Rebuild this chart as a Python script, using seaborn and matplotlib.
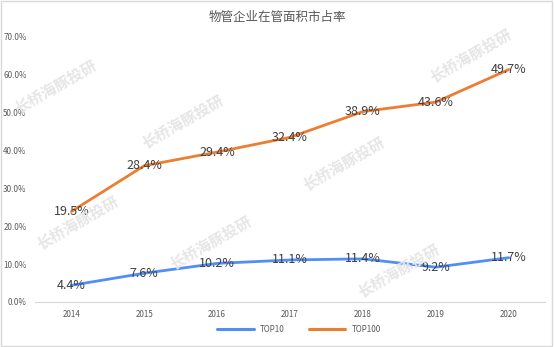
import matplotlib
matplotlib.use("Agg")
import matplotlib.pyplot as plt
import seaborn as sns
import pandas as pd
import numpy as np
from matplotlib.lines import Line2D

years = ["2014", "2015", "2016", "2017", "2018", "2019", "2020"]
top10 = [4.4, 7.6, 10.2, 11.1, 11.4, 9.2, 11.7]
top100 = [19.5, 28.4, 29.4, 32.4, 38.9, 43.6, 49.7]
series_names = ["TOP10", "TOP100"]
title = "物管企业在管面积市占率"
yticks = [0, 10, 20, 30, 40, 50, 60, 70]

sns.set_theme(style="white")
plt.rcParams["font.family"] = ["Noto Sans CJK SC", "DejaVu Sans"]

# stacked line chart: second series drawn on top of the first
stack10 = np.array(top10)
stack100 = stack10 + np.array(top100)
df = pd.DataFrame({
    "year": years * 2,
    "value": list(stack10) + list(stack100),
    "label": top10 + top100,
    "series": [series_names[0]] * 7 + [series_names[1]] * 7,
})

colors = {"TOP10": "#4F8FF7", "TOP100": "#ED7D31"}

fig = plt.figure(figsize=(5.54, 3.47), dpi=100)
ax = fig.add_axes([0.063, 0.1297, 0.921, 0.7637])

# faint watermarks
wm_pos = [(0.10, 0.75), (0.33, 0.65), (0.62, 0.53), (0.85, 0.84),
          (0.14, 0.36), (0.38, 0.30), (0.72, 0.22)]
for (wx, wy) in wm_pos:
    fig.text(wx, wy, "长桥海豚投研", fontsize=11, color="#E6E6E6",
             rotation=30, ha="center", va="center", fontweight="bold", zorder=0)

sns.lineplot(data=df, x="year", y="value", hue="series", palette=colors,
             linewidth=2.0, ax=ax, legend=False, sort=False)

for _, r in df.iterrows():
    ax.text(years.index(r["year"]), r["value"], f"{r['label']:.1f}%",
            ha="center", va="center", fontsize=9, color="#404040", zorder=5)

ax.set_xlim(-0.5, 6.5)
ax.set_ylim(0, 70)
ax.set_yticks(yticks)
ax.set_yticklabels([f"{v:.1f}%" for v in yticks], fontsize=5.8, color="#595959")
ax.set_xticks(range(len(years)))
ax.set_xticklabels(years, fontsize=5.8, color="#595959")
ax.set_xlabel("")
ax.set_ylabel("")
ax.tick_params(axis="both", length=0, pad=6)
for s in ["top", "right", "left"]:
    ax.spines[s].set_visible(False)
ax.spines["bottom"].set_color("#D9D9D9")
ax.spines["bottom"].set_linewidth(0.8)
ax.patch.set_alpha(0)

fig.text(0.5, 0.95, title, ha="center", va="center", fontsize=9, color="#595959")

handles = [Line2D([0], [0], color=colors[n], lw=2.2) for n in series_names]
fig.legend(handles, series_names, loc="center", bbox_to_anchor=(0.54, 0.05),
           ncol=2, frameon=False, fontsize=5.8, handlelength=4.5,
           columnspacing=3, labelcolor="#595959")

# light border
fig.patches.append(plt.Rectangle((0.002, 0.003), 0.995, 0.994, transform=fig.transFigure,
                                 fill=False, edgecolor="#D9D9D9", lw=1))

fig.savefig("out.png", dpi=100)
